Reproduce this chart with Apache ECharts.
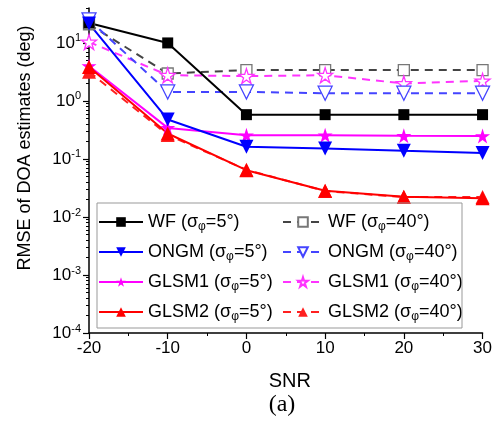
<!DOCTYPE html>
<html>
<head>
<meta charset="utf-8">
<script src="https://cdn.jsdelivr.net/npm/echarts@6/dist/echarts.min.js"></script>
<style>
html,body{margin:0;padding:0;background:#fff;}
#c{width:495px;height:422px;}
</style>
</head>
<body>
<div id="c"></div>
<script>
const snr = [-20, -10, 0, 10, 20, 30];
const wf5 = [22, 10, 0.58, 0.58, 0.58, 0.58];
const wf40 = [21, 2.97, 3.4, 3.4, 3.4, 3.4];
const ongm5 = [21.6, 0.48, 0.162, 0.152, 0.138, 0.127];
const ongm40 = [25, 1.43, 1.43, 1.36, 1.36, 1.36];
const glsm1_5 = [4.0, 0.343, 0.257, 0.257, 0.25, 0.248];
const glsm1_40 = [10.4, 2.78, 2.68, 2.78, 2.0, 2.22];
const glsm2_5 = [3.86, 0.275, 0.064, 0.0283, 0.0223, 0.021];
const glsm2_40 = [3.2, 0.26, 0.065, 0.028, 0.022, 0.022];

const xTicks = [-20, -10, 0, 10, 20, 30];
const yExponents = [-4, -3, -2, -1, 0, 1];

const names = {
  wf5: 'WF (σφ=5°)', wf40: 'WF (σφ=40°)',
  ongm5: 'ONGM (σφ=5°)', ongm40: 'ONGM (σφ=40°)',
  g15: 'GLSM1 (σφ=5°)', g140: 'GLSM1 (σφ=40°)',
  g25: 'GLSM2 (σφ=5°)', g240: 'GLSM2 (σφ=40°)'
};

const STAR = 'path://M50,0 L61.2,34.5 L97.6,34.5 L68.2,55.9 L79.4,90.5 L50,69.1 L20.6,90.5 L31.8,55.9 L2.4,34.5 L38.8,34.5 Z';

const yMajor = yExponents.map(e => Math.pow(10, e));
const yMinor = [];
yExponents.forEach(e => {
  for (let k = 2; k <= 9; k++) {
    const v = k * Math.pow(10, e);
    if (v <= 40) yMinor.push(v);
  }
});

function pairs(arr) { return snr.map((x, i) => [x, arr[i]]); }

function mk(name, arr, color, dashed, symbol, size, hollow, rotate, lineColor) {
  return {
    name: name,
    type: 'line',
    data: pairs(arr),
    symbol: symbol,
    symbolSize: size,
    symbolRotate: rotate || 0,
    showAllSymbol: true,
    lineStyle: { color: lineColor || color, width: 2, type: dashed ? [8, 6] : 'solid' },
    itemStyle: hollow ? { color: '#fff', borderColor: color, borderWidth: 1.3, opacity: 1 }
                      : { color: color, borderColor: color, borderWidth: 0 },
    emphasis: { disabled: true },
    animation: false
  };
}

const series = [
  mk(names.wf40, wf40, '#777', true, 'rect', 11, true, 0, '#444'),
  mk(names.g140, glsm1_40, '#ff33ff', true, STAR, 15, true, 0),
  mk(names.ongm40, ongm40, '#4444ff', true, 'triangle', 14, true, 180),
  mk(names.wf5, wf5, '#000', false, 'rect', 11, false, 0),
  mk(names.g15, glsm1_5, '#ff00ff', false, STAR, 15, false, 0),
  mk(names.ongm5, ongm5, '#0000ff', false, 'triangle', 14, false, 180),
  mk(names.g240, glsm2_40, '#ff2020', true, 'triangle', 14, false, 0),
  mk(names.g25, glsm2_5, '#ff0000', false, 'triangle', 14, false, 0)
];

function legendFmt(name) {
  const i = name.indexOf('σφ');
  return '{t|' + name.slice(0, i) + 'σ}{s|φ}{t|' + name.slice(i + 2) + '}';
}
const legendText = {
  color: '#000',
  fontFamily: 'Liberation Sans, Arial',
  fontSize: 18,
  lineHeight: 22,
  rich: {
    t: { fontSize: 18, lineHeight: 22, fontFamily: 'Liberation Sans, Arial', color: '#000' },
    s: { fontSize: 12, lineHeight: 12, verticalAlign: 'bottom', fontFamily: 'Liberation Sans, Arial', color: '#000' }
  }
};
function legend(left, width, data) {
  return {
    orient: 'vertical', left: left, top: 211, padding: 0,
    itemWidth: width, itemHeight: 12, itemGap: 8,
    data: data, formatter: legendFmt, textStyle: legendText,
    selectedMode: false
  };
}

const chart = echarts.init(document.getElementById('c'), null, { renderer: 'canvas' });
chart.setOption({
  animation: false,
  backgroundColor: '#fff',
  grid: { left: 89, right: 11, top: 8, bottom: 89 },
  legend: [
    legend(98, 44, [names.wf5, names.ongm5, names.g15, names.g25]),
    legend(282, 40, [names.wf40, names.ongm40, names.g140, names.g240])
  ],
  xAxis: {
    type: 'value', min: -20, max: 30, interval: 10,
    name: 'SNR', nameLocation: 'middle', nameGap: 38,
    nameTextStyle: { fontSize: 20, color: '#000', fontFamily: 'Liberation Sans, Arial', padding: [0, 0, 0, 8] },
    axisLine: { show: true, onZero: false, lineStyle: { color: '#000', width: 1.5 } },
    axisTick: { show: true, inside: false, length: 6, lineStyle: { color: '#000', width: 1.2 }, customValues: xTicks },
    minorTick: { show: true, splitNumber: 2, length: 3, lineStyle: { color: '#000', width: 1 } },
    axisLabel: { fontSize: 17, color: '#000', fontFamily: 'Liberation Sans, Arial', margin: 7, customValues: xTicks },
    splitLine: { show: false }
  },
  yAxis: [
    {
      type: 'log', logBase: 10, min: 1e-4, max: 40, position: 'left',
      axisLine: { show: true, onZero: false, lineStyle: { color: '#000', width: 1.5 } },
      axisTick: { show: true, inside: false, length: 6, lineStyle: { color: '#000', width: 1.2 }, customValues: yMajor },
      axisLabel: {
        customValues: yMajor,
        margin: 8,
        formatter: function (v) {
          const e = Math.round(Math.log10(v));
          return '{b|10}{s|' + e + '}';
        },
        rich: {
          b: { fontSize: 17, lineHeight: 20, color: '#000', fontFamily: 'Liberation Sans, Arial' },
          s: { fontSize: 11, lineHeight: 11, verticalAlign: 'top', color: '#000', fontFamily: 'Liberation Sans, Arial' }
        }
      },
      splitLine: { show: false }
    },
    {
      type: 'log', logBase: 10, min: 1e-4, max: 40, position: 'left', offset: 0,
      axisLine: { show: false, onZero: false },
      axisTick: { show: true, inside: false, length: 3, lineStyle: { color: '#000', width: 1 }, customValues: yMinor },
      axisLabel: { show: false },
      splitLine: { show: false }
    }
  ],
  graphic: [
    { type: 'rect', shape: { x: 97, y: 203, width: 365, height: 125 }, style: { fill: 'none', stroke: '#999', lineWidth: 1 }, z: 10 },
    { type: 'text', x: 25, y: 148, rotation: Math.PI / 2, style: { text: 'RMSE of DOA estimates (deg)', fontSize: 18, fontFamily: 'Liberation Sans, Arial', fill: '#000', align: 'center', verticalAlign: 'middle' } },
    { type: 'text', x: 282, y: 405, style: { text: '(a)', fontSize: 24, fontFamily: 'Liberation Serif, Times New Roman', fill: '#000', align: 'center', verticalAlign: 'middle' } }
  ],
  series: series
});
</script>
</body>
</html>
